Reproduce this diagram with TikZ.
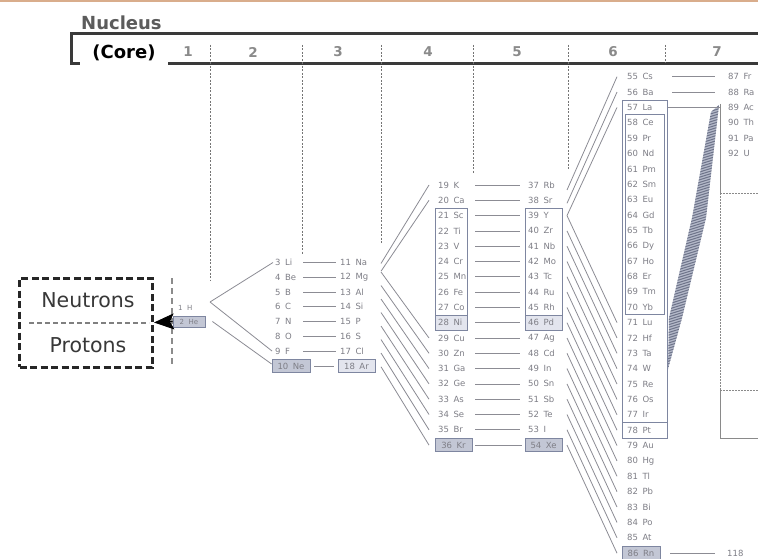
\documentclass[tikz,border=0pt]{standalone}
\usepackage{fontspec}
\setmainfont{DejaVu Sans}
\newfontfamily\elfont{DejaVu Sans}
\usetikzlibrary{arrows.meta}
\definecolor{lnc}{HTML}{8C8C94}
\definecolor{txc}{HTML}{7E7E86}
\definecolor{bfill}{HTML}{C3C7D5}
\definecolor{bline}{HTML}{7E86A0}
\definecolor{lfill}{HTML}{E3E5EE}
\definecolor{tanc}{HTML}{D9AD8C}
\definecolor{hdr}{HTML}{3A3A3A}
\definecolor{numc}{HTML}{8A8A8A}
\definecolor{nucc}{HTML}{5C5C5C}
\definecolor{ntc}{HTML}{383838}
\definecolor{nbc}{HTML}{262626}
\definecolor{rbc}{HTML}{8A8A8A}
\definecolor{bandfill}{HTML}{B4B9C9}
\definecolor{bandline}{HTML}{6E748A}
\newcommand\elt[2]{#1\hspace{4.5pt}#2}
\begin{document}
\begin{tikzpicture}[x=1pt,y=-1pt,
  el/.style={font=\elfont\fontsize{8.5}{9}\selectfont, text=txc, anchor=west, inner sep=0pt},
  bel/.style={font=\elfont\fontsize{8.5}{9}\selectfont, text=txc, anchor=center, inner sep=0pt, draw=bline, fill=bfill, line width=0.8pt, minimum height=12.5pt},
  lnk/.style={draw=lnc, line width=0.8pt},
  colln/.style={draw=hdr!70, line width=0.8pt, dash pattern=on 2pt off 1.5pt},
  boxln/.style={draw=bline, line width=0.8pt},
  rbox/.style={draw=rbc, line width=0.9pt},
  rdash/.style={draw=rbc, line width=0.9pt, dash pattern=on 1.5pt off 1.5pt},
  bignum/.style={font=\bfseries\fontsize{13.5}{14}\selectfont, text=numc, inner sep=0pt},
  nlabel/.style={font=\fontsize{20.5}{21}\selectfont, text=ntc, inner sep=0pt}
]
\useasboundingbox (0,0) rectangle (758,559);
\clip (0,0) rectangle (758,559);
\fill[white] (0,0) rectangle (758,559);
\fill[tanc] (0,0) rectangle (758,2.5);

% header bar
\draw[hdr, line width=2.6pt, line join=miter] (790,33.5) -- (71.3,33.5) -- (71.3,63.5) -- (790,63.5);
\foreach \x/\yb in {210/280,302/254,381/244,473/174,568/170,665/63}
  \draw[colln] (\x,45) -- (\x,\yb);
\node[fill=white, inner sep=0pt, minimum width=88pt, minimum height=25pt,
      font=\bfseries\fontsize{18}{18}\selectfont] (core) at (124,52.5) {(Core)};
\node[anchor=west, inner sep=0pt, font=\bfseries\fontsize{18}{18}\selectfont, text=nucc] (nuc) at (81,23) {Nucleus};
\foreach \n/\x in {1/188,2/253,3/338,4/428,5/517,6/613,7/717}
  \node[bignum] (n\n) at (\x,52) {\n};

% neutrons / protons
\node[draw=nbc, line width=3pt, dash pattern=on 7pt off 3.5pt, minimum width=133pt, minimum height=89pt, inner sep=0pt] (nbox) at (86,322.5) {};
\node[nlabel] (neu) at (88,300) {Neutrons};
\node[nlabel] (pro) at (88,345) {Protons};
\draw[dash pattern=on 5pt off 3pt, line width=2pt, draw=gray] ([xshift=11pt]nbox.west) -- ([xshift=-5pt]nbox.east);
\draw[dash pattern=on 6pt off 4pt, line width=2.5pt, draw=gray!90] (172,278) -- (172,367);

% boxes (behind text)
\fill[lfill] (435,315) rectangle (467,330);
\fill[lfill] (525,315) rectangle (562,330);
\draw[boxln] (435,208) rectangle (467,330);
\draw[boxln] (435,315) -- (467,315);
\draw[boxln] (525,208) rectangle (562,330);
\draw[boxln] (525,315) -- (562,315);
\draw[boxln] (622,100) rectangle (667,438);
\draw[boxln] (625,114.5) rectangle (664,314.5);
\draw[boxln] (622,422.5) -- (667,422.5);

% right box
\draw[rbox] (720,104) -- (720,193);
\draw[rdash] (720,193) -- (720,390);
\draw[rbox] (720,390) -- (720,438) -- (770,438);
\draw[rdash] (720,193) -- (770,193);
\draw[rdash] (720,390) -- (770,390);

% hatched band
\begin{scope}
\clip (711,112) -- (719,105) -- (706,218) -- (682,318) -- (668,369) -- (669,318) -- (692,218) -- cycle;
\fill[bandfill] (650,100) rectangle (730,380);
\foreach \k in {0,...,110}
  \draw[bandline, line width=1pt] (655,108+2.6*\k) -- (725,86+2.6*\k);
\end{scope}

% H, He
\node[el, font=\elfont\fontsize{7}{7}\selectfont] (e1) at (178,307.5) {\elt{1}{H}};
\node[bel, minimum width=32pt, minimum height=11pt, font=\elfont\fontsize{7}{7}\selectfont] (e2) at (189,321.5) {\elt{2}{He}};
\draw[-{Stealth[length=20pt,width=16pt,inset=4pt]}, line width=1pt, black] (e2.west) -- (nbox.east);

% period 2
\foreach \z/\s [count=\i from 0] in {3/Li,4/Be,5/B,6/C,7/N,8/O,9/F}
  \node[el] (e\z) at (275,262.5+14.75*\i) {\elt{\z}{\s}};
\node[bel, minimum width=38pt] (e10) at (291,366) {\elt{10}{Ne}};
% period 3
\foreach \z/\s [count=\i from 0] in {11/Na,12/Mg,13/Al,14/Si,15/P,16/S,17/Cl}
  \node[el] (e\z) at (340,262.5+14.75*\i) {\elt{\z}{\s}};
\node[bel, fill=lfill, minimum width=37pt] (e18) at (356.5,366) {\elt{18}{Ar}};
% period 4
\foreach \z/\s [count=\i from 0] in {19/K,20/Ca,21/Sc,22/Ti,23/V,24/Cr,25/Mn,26/Fe,27/Co,28/Ni,29/Cu,30/Zn,31/Ga,32/Ge,33/As,34/Se,35/Br}
  \node[el] (e\z) at (438,185+15.3*\i) {\elt{\z}{\s}};
\node[bel, minimum width=37pt, minimum height=13pt] (e36) at (453.5,445.1) {\elt{36}{Kr}};
% period 5
\foreach \z/\s [count=\i from 0] in {37/Rb,38/Sr,39/Y,40/Zr,41/Nb,42/Mo,43/Tc,44/Ru,45/Rh,46/Pd,47/Ag,48/Cd,49/In,50/Sn,51/Sb,52/Te,53/I}
  \node[el] (e\z) at (528,185+15.3*\i) {\elt{\z}{\s}};
\node[bel, minimum width=37pt, minimum height=13pt] (e54) at (543.5,445.1) {\elt{54}{Xe}};
% period 6
\foreach \z/\s [count=\i from 0] in {55/Cs,56/Ba,57/La,58/Ce,59/Pr,60/Nd,61/Pm,62/Sm,63/Eu,64/Gd,65/Tb,66/Dy,67/Ho,68/Er,69/Tm,70/Yb,71/Lu,72/Hf,73/Ta,74/W,75/Re,76/Os,77/Ir,78/Pt,79/Au,80/Hg,81/Tl,82/Pb,83/Bi,84/Po,85/At}
  \node[el] (e\z) at (627,76.7+15.37*\i) {\elt{\z}{\s}};
\node[bel, minimum width=38pt, minimum height=13pt] (e86) at (641,553.2) {\elt{86}{Rn}};
% period 7
\foreach \z/\s [count=\i from 0] in {87/Fr,88/Ra,89/Ac,90/Th,91/Pa,92/U}
  \node[el] (e\z) at (728,76.7+15.37*\i) {\elt{\z}{\s}};
\node[el] (e118) at (727,553.2) {118};

% connector columns
\coordinate (c2r) at (303,0); \coordinate (c3l) at (336,0);
\coordinate (c3r) at (381,0); \coordinate (c4l) at (429,0);
\coordinate (c4r) at (475,0); \coordinate (c5l) at (520,0);
\coordinate (c5r) at (567,0); \coordinate (c6l) at (617,0);
\coordinate (c6r) at (672,0); \coordinate (c7l) at (715,0);
\coordinate (c6b) at (668,0); \coordinate (rbl) at (720,0);
\coordinate (hap) at (210,302);

% H/He links
\draw[lnk] (hap) -- ([xshift=-2pt]e3.west);
\draw[lnk] (hap) -- ([xshift=-3pt]e9.west);
\draw[lnk] ([xshift=7pt]e2.east) -- ([yshift=2pt]e10.west);

% period 2 -> 3
\foreach \a in {3,...,9} {
  \pgfmathtruncatemacro\b{\a+8}
  \draw[lnk] (e\a -| c2r) -- (e\b -| c3l);
}
\draw[lnk] ([xshift=4pt]e10.east) -- ([xshift=-4pt]e18.west);

% period 3 -> 4
\draw[lnk] (e11 -| c3r) ++(0,1) -- (e19 -| c4l);
\draw[lnk] (e12 -| c3r) ++(0,-6) -- (e20 -| c4l);
\foreach \k in {0,...,7} {
  \pgfmathtruncatemacro\a{11+\k}
  \pgfmathtruncatemacro\b{29+\k}
  \pgfmathsetmacro\o{9.5-1.25*\k}
  \draw[lnk] (e\a -| c3r) ++(0,\o) -- (e\b -| c4l);
}

% period 4 -> 5
\foreach \a in {19,...,35} {
  \pgfmathtruncatemacro\b{\a+18}
  \draw[lnk] (e\a -| c4r) -- (e\b -| c5l);
}
\draw[lnk] ([xshift=3pt]e36.east) -- ([xshift=-3pt]e54.west);

% period 5 -> 6
\draw[lnk] (e37 -| c5r) ++(0,5) -- (e55 -| c6l);
\draw[lnk] (e38 -| c5r) ++(0,3) -- (e56 -| c6l);
\draw[lnk] (e39 -| c5r) -- (e57 -| c6l);
\foreach \k in {0,...,15} {
  \pgfmathtruncatemacro\a{39+\k}
  \pgfmathtruncatemacro\b{71+\k}
  \draw[lnk] (e\a -| c5r) -- (e\b -| c6l);
}

% period 6 -> 7
\draw[lnk] (e55 -| c6r) -- (e87 -| c7l);
\draw[lnk] (e56 -| c6r) -- (e88 -| c7l);
\draw[lnk] (e57 -| c6b) -- (e89 -| rbl);
\draw[lnk] ([xshift=10pt]e86.east) -- (e118 -| c7l);
\end{tikzpicture}
\end{document}
